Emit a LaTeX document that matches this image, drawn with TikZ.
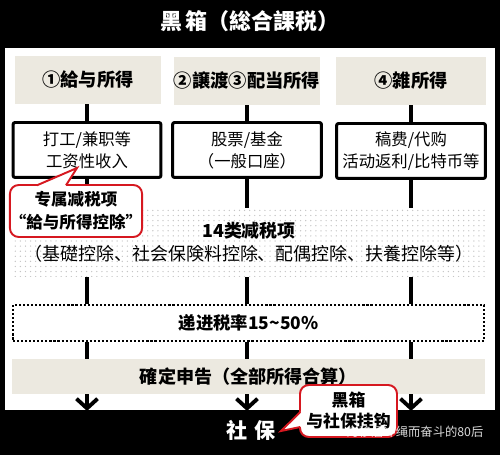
\documentclass[tikz,border=0pt]{standalone}
\usepackage{fontspec}
\setmainfont{Noto Sans CJK SC}
\usetikzlibrary{arrows.meta,patterns.meta}
\definecolor{beige}{RGB}{236,233,224}
\definecolor{cred}{RGB}{214,24,32}
\definecolor{dotgray}{RGB}{196,196,196}
\begin{document}
\begin{tikzpicture}[x=0.02cm,y=-0.02cm,
  conn/.style={line width=2.2pt},
  arrowconn/.style={line width=2.2pt,-{Straight Barb[length=5.5pt,width=12pt]}},
  titletext/.style={text=white,font=\fontsize{12.5pt}{14pt}\selectfont\bfseries},
  headbox/.style={fill=beige,minimum height=0.96cm,inner sep=0pt,font=\fontsize{10.4pt}{12pt}\selectfont\bfseries},
  midbox/.style={draw,line width=1.7pt,rounded corners=1.2pt,fill=white,minimum height=1.1cm,inner sep=0pt,align=center,font=\fontsize{9.3pt}{12.5pt}\selectfont},
  dotregion/.style={pattern={Dots[distance=2.9pt,radius=0.4pt]},pattern color=dotgray,minimum width=9.44cm,minimum height=1.38cm,inner sep=0pt,align=center,font=\fontsize{10.2pt}{13pt}\selectfont},
  ratebox/.style={draw,line width=1.4pt,dash pattern=on 1.2pt off 1.1pt,minimum width=9.42cm,minimum height=0.72cm,inner sep=0pt,font=\fontsize{9.9pt}{12pt}\selectfont\bfseries},
  finalbox/.style={fill=beige,minimum width=9.46cm,minimum height=0.70cm,inner sep=0pt,font=\fontsize{10.3pt}{12pt}\selectfont\bfseries},
  calloutbox/.style={draw=cred,line width=1.1pt,fill=white,rounded corners=5pt,inner sep=0pt,align=center,font=\fontsize{9.4pt}{13pt}\selectfont\bfseries},
  pointerline/.style={draw=cred,line width=1.1pt,line join=miter},
  bandtext/.style={text=white,font=\fontsize{12pt}{14pt}\selectfont\bfseries},
  watermark/.style={text=white,text opacity=0.85,font=\fontsize{7pt}{8pt}\selectfont}
]
\useasboundingbox (0,0) rectangle (500,455);
% frame
\fill[black] (0,0) rectangle (500,455);
\fill[white] (5,48) rectangle (495,410);

% title and bottom band
\node[titletext] (title) at (250,21) {黑\hspace{1.5pt}箱（総合課税）};
\node[bandtext] (sb) at (251,430) {社\hspace{4pt}保};

% header boxes
\node[headbox,minimum width=2.92cm] (t1) at (88,80) {①給与所得};
\node[headbox,minimum width=2.94cm] (t2) at (247,81) {②譲渡③配当所得};
\node[headbox,minimum width=3.0cm] (t3) at (411,81) {④雑所得};

% second row
\node[midbox,minimum width=2.96cm] (m1) at (87,150) {打工/兼职等\\工资性收入};
\node[midbox,minimum width=2.98cm] (m2) at (247,150) {股票/基金\\（一般口座）};
\node[midbox,minimum width=2.98cm] (m3) at (411,151) {稿费/代购\\活动返利/比特币等};

% deduction region
\node[dotregion] (d) at (249,242.5) {{\bfseries 14类减税项}\\（基礎控除、社会保険料控除、配偶控除、扶養控除等）};

% rate box
\node[ratebox] (r) at (248.5,323) {递进税率15\textasciitilde50\%};

% final box
\node[finalbox] (f) at (248.5,376.5) {確定申告（全部所得合算）};

% arrow ends
\coordinate (e1) at (87,411);
\coordinate (e2) at (247,411);
\coordinate (e3) at (411,411);

% connectors
\foreach \t/\m/\e in {t1/m1/e1,t2/m2/e2,t3/m3/e3}{
  \draw[conn] (\t.south -| \m) -- (\m.north);
  \draw[conn] (\m.south) -- (\m.south |- d.north);
  \draw[conn] (d.south -| \m) -- (r.north -| \m);
  \draw[conn] (r.south -| \m) -- (f.north -| \m);
  \draw[arrowconn] (f.south -| \m) -- (\e);
}

% callout 1
\node[calloutbox,minimum width=2.52cm,minimum height=1.04cm] (c1) at (76,211) {专属减税项\\“給与所得控除”};
\fill[white] (37,185) -- (77,168) -- (66,185) -- (66,188) -- (37,188) -- cycle;
\draw[pointerline] (37,185.3) -- (77,168) -- (66,185.3);

% callout 2
\node[calloutbox,minimum width=1.94cm,minimum height=1.04cm,font=\fontsize{9.6pt}{12pt}\selectfont\bfseries] (c2) at (348.5,411) {黑箱\\与社保挂钩};
\fill[white] (300,412) -- (281,431) -- (300,427) -- (303,427) -- (303,412) -- cycle;
\draw[pointerline] (300.3,412) -- (281,431) -- (300.3,427);

% watermark (overlaid, as in the reference)
\node[watermark] (wm) at (415,432) {为移居冲绳而奋斗的80后};
\end{tikzpicture}
\end{document}
